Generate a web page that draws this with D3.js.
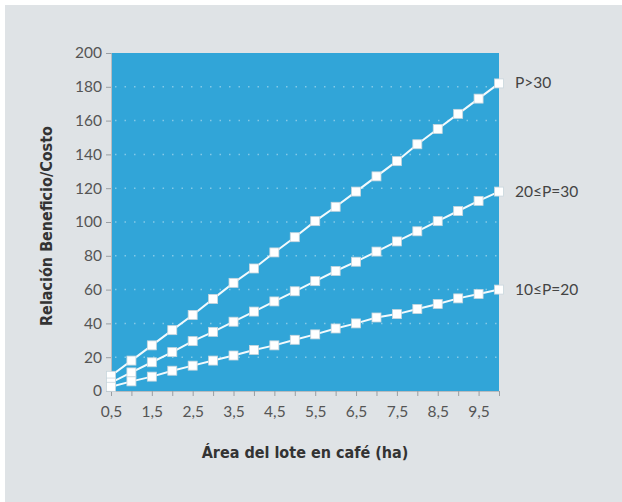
<!DOCTYPE html>
<html><head><meta charset="utf-8">
<script src="https://cdn.jsdelivr.net/npm/d3@7"></script>
<style>body{margin:0;background:#fff}svg{display:block}</style>
</head><body>
<svg id="c" width="622" height="502"></svg>
<script>
const xValues = [0.5,1,1.5,2,2.5,3,3.5,4,4.5,5,5.5,6,6.5,7,7.5,8,8.5,9,9.5,10];
const seriesNames = ["P>30","20\u2264P=30","10\u2264P=20"];
const highValues = [9,18,27,36,45,54.5,64,72.5,82,91,100.5,109,118,127,136,146,155,164,173,182];
const midValues = [5,11,17,23,29.5,35,41,47,53,59,65,71,76.5,82.5,88.5,94.5,100.5,106.5,112.5,118];
const lowValues = [2.5,5.7,8.5,12,15,18,21,24.3,27,30.3,33.5,37,40,43.5,45.5,48.5,51.5,54.8,57.4,60];
const yTicks = [0,20,40,60,80,100,120,140,160,180,200];
const xTickLabels = [0.5,1.5,2.5,3.5,4.5,5.5,6.5,7.5,8.5,9.5];
const xTitle = "\u00c1rea del lote en caf\u00e9 (ha)";
const yTitle = "Relaci\u00f3n Beneficio/Costo";

const svg = d3.select("#c");
svg.append("rect").attr("x",5).attr("y",5).attr("width",617).attr("height",497).attr("fill","#dfe3e6");

const L=111,R=499,T=53,B=391;
const x = d3.scaleLinear().domain([0.5,10]).range([L,R]);
const y = d3.scaleLinear().domain([0,200]).range([B,T]);

svg.append("rect").attr("x",L).attr("y",T).attr("width",R-L).attr("height",B-T).attr("fill","#31a5d8");

// grid
svg.append("g").selectAll("line").data(yTicks.filter(d=>d>0&&d<200)).join("line")
  .attr("x1",L+4).attr("x2",R-2).attr("y1",d=>y(d)).attr("y2",d=>y(d))
  .attr("stroke","#ffffff").attr("stroke-opacity",0.4).attr("stroke-width",1.5)
  .attr("stroke-dasharray","1.5,8");

// axes
const fontTick = "'Lato', 'Open Sans', sans-serif";
const yAxis = d3.axisLeft(y).tickValues(yTicks).tickSize(5).tickPadding(4).tickFormat(d3.format("d"));
const gy = svg.append("g").attr("transform",`translate(${L},0)`).call(yAxis);
gy.select(".domain").attr("stroke","#b8bcc0");
gy.selectAll(".tick line").attr("stroke","#9a9ea2");
gy.selectAll("text").attr("font-family",fontTick).attr("font-size",15.5).attr("fill","#555");

const xAxis = d3.axisBottom(x).tickValues(xValues).tickSize(5).tickPadding(10)
  .tickFormat(d=> xTickLabels.includes(d) ? String(d).replace(".",",") : "");
const gx = svg.append("g").attr("transform",`translate(0,${B})`).call(xAxis);
gx.select(".domain").attr("stroke","#b8bcc0");
gx.selectAll(".tick line").attr("stroke","#9a9ea2");
gx.selectAll("text").attr("font-family",fontTick).attr("font-size",15.5).attr("fill","#555");

// series
const all = [highValues, midValues, lowValues];
const line = d3.line().x((d,i)=>x(xValues[i])).y(d=>y(d));
all.forEach((vals,k)=>{
  svg.append("path").datum(vals).attr("d",line).attr("fill","none")
    .attr("stroke","#f2fafd").attr("stroke-width",2);
  svg.append("g").selectAll("rect").data(vals).join("rect")
    .attr("x",(d,i)=>x(xValues[i])-4.5).attr("y",d=>y(d)-4.5)
    .attr("width",9).attr("height",9).attr("fill","#ffffff")
    .attr("stroke","#c9d6dd").attr("stroke-width",0.8);
  svg.append("text").attr("x",R+16).attr("y",y(vals[vals.length-1])+5)
    .attr("font-family",fontTick).attr("font-size",15.5).attr("fill","#444")
    .text(seriesNames[k]);
});

// titles
svg.append("text").attr("x",(L+R)/2).attr("y",458).attr("text-anchor","middle")
  .attr("font-family","'Liberation Sans Narrow','DejaVu Sans Condensed',sans-serif")
  .attr("font-weight","bold").attr("font-size",16).attr("fill","#333").text(xTitle);
svg.append("text").attr("transform",`translate(52,${(T+B)/2+4}) rotate(-90)`).attr("text-anchor","middle")
  .attr("font-family","'Liberation Sans Narrow','DejaVu Sans Condensed',sans-serif")
  .attr("font-weight","bold").attr("font-size",16).attr("fill","#333").text(yTitle);
</script>
</body></html>
